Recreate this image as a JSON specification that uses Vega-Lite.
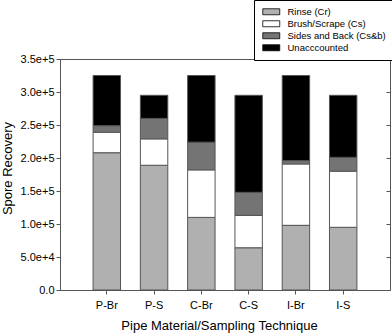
{
  "$schema": "https://vega.github.io/schema/vega-lite/v6.json",
  "width": 330,
  "height": 231,
  "autosize": "none",
  "padding": {"left": 60, "top": 59, "right": 2, "bottom": 44},
  "config": {
    "font": "Liberation Sans",
    "view": {"stroke": "#555555", "strokeWidth": 1},
    "axis": {"grid": false, "domainColor": "#555555", "tickColor": "#555555", "labelColor": "#000000", "titleColor": "#000000", "labelFontSize": 11, "titleFontSize": 13, "titleFontWeight": "normal"}
  },
  "data": {
    "values": [
      {"technique": "P-Br", "component": "Rinse (Cr)", "rank": 1, "value": 208000},
      {"technique": "P-Br", "component": "Brush/Scrape (Cs)", "rank": 2, "value": 31000},
      {"technique": "P-Br", "component": "Sides and Back (Cs&b)", "rank": 3, "value": 10000},
      {"technique": "P-Br", "component": "Unacccounted", "rank": 4, "value": 76000},
      {"technique": "P-S", "component": "Rinse (Cr)", "rank": 1, "value": 189000},
      {"technique": "P-S", "component": "Brush/Scrape (Cs)", "rank": 2, "value": 40000},
      {"technique": "P-S", "component": "Sides and Back (Cs&b)", "rank": 3, "value": 31000},
      {"technique": "P-S", "component": "Unacccounted", "rank": 4, "value": 35000},
      {"technique": "C-Br", "component": "Rinse (Cr)", "rank": 1, "value": 110000},
      {"technique": "C-Br", "component": "Brush/Scrape (Cs)", "rank": 2, "value": 72000},
      {"technique": "C-Br", "component": "Sides and Back (Cs&b)", "rank": 3, "value": 42000},
      {"technique": "C-Br", "component": "Unacccounted", "rank": 4, "value": 101000},
      {"technique": "C-S", "component": "Rinse (Cr)", "rank": 1, "value": 64000},
      {"technique": "C-S", "component": "Brush/Scrape (Cs)", "rank": 2, "value": 49000},
      {"technique": "C-S", "component": "Sides and Back (Cs&b)", "rank": 3, "value": 35000},
      {"technique": "C-S", "component": "Unacccounted", "rank": 4, "value": 147000},
      {"technique": "I-Br", "component": "Rinse (Cr)", "rank": 1, "value": 98000},
      {"technique": "I-Br", "component": "Brush/Scrape (Cs)", "rank": 2, "value": 93000},
      {"technique": "I-Br", "component": "Sides and Back (Cs&b)", "rank": 3, "value": 5000},
      {"technique": "I-Br", "component": "Unacccounted", "rank": 4, "value": 129000},
      {"technique": "I-S", "component": "Rinse (Cr)", "rank": 1, "value": 95000},
      {"technique": "I-S", "component": "Brush/Scrape (Cs)", "rank": 2, "value": 85000},
      {"technique": "I-S", "component": "Sides and Back (Cs&b)", "rank": 3, "value": 21000},
      {"technique": "I-S", "component": "Unacccounted", "rank": 4, "value": 94000}
    ]
  },
  "layer": [
    {
      "mark": {"type": "bar", "stroke": "#555555", "strokeWidth": 1},
      "encoding": {
        "x": {
          "field": "technique", "type": "nominal",
          "sort": ["P-Br", "P-S", "C-Br", "C-S", "I-Br", "I-S"],
          "scale": {"paddingInner": 0.42, "paddingOuter": 0.7},
          "axis": {"title": "Pipe Material/Sampling Technique", "labelAngle": 0, "tickSize": 4, "labelPadding": 5, "titlePadding": 9, "titleX": 159, "domain": true}
        },
        "y": {
          "field": "value", "type": "quantitative", "stack": "zero",
          "scale": {"domain": [0, 350000], "nice": false},
          "axis": {
            "title": "Spore Recovery",
            "values": [0, 50000, 100000, 150000, 200000, 250000, 300000, 350000],
            "labelExpr": "datum.value == 0 ? '0.0' : format(datum.value, '.1e')",
            "tickSize": 4, "labelPadding": 2, "titlePadding": 6, "titleY": 109
          }
        },
        "color": {
          "field": "component", "type": "nominal",
          "scale": {
            "domain": ["Rinse (Cr)", "Brush/Scrape (Cs)", "Sides and Back (Cs&b)", "Unacccounted"],
            "range": ["#b0b0b0", "#ffffff", "#747474", "#000000"]
          },
          "legend": {
            "title": null,
            "orient": "none",
            "legendX": 194,
            "legendY": -59,
            "padding": 7,
            "strokeColor": "#000000",
            "fillColor": "#ffffff",
            "symbolType": "M-1,-1H4.67V1H-1Z",
            "symbolSize": 36,
            "symbolStrokeColor": "#000000",
            "symbolStrokeWidth": 0.8,
            "symbolOpacity": 1,
            "labelFontSize": 9.5,
            "labelOffset": 17,
            "labelColor": "#000000",
            "rowPadding": 1
          }
        },
        "order": {"field": "rank", "type": "quantitative"}
      }
    },
    {
      "mark": {"type": "rule", "opacity": 0},
      "encoding": {
        "y": {
          "field": "value", "type": "quantitative", "aggregate": "max",
          "scale": {"domain": [0, 350000], "nice": false},
          "axis": {"orient": "right", "title": null, "labels": false, "tickSize": -4, "values": [50000, 100000, 150000, 200000, 250000, 300000]}
        }
      }
    }
  ],
  "resolve": {"axis": {"y": "independent"}}
}
